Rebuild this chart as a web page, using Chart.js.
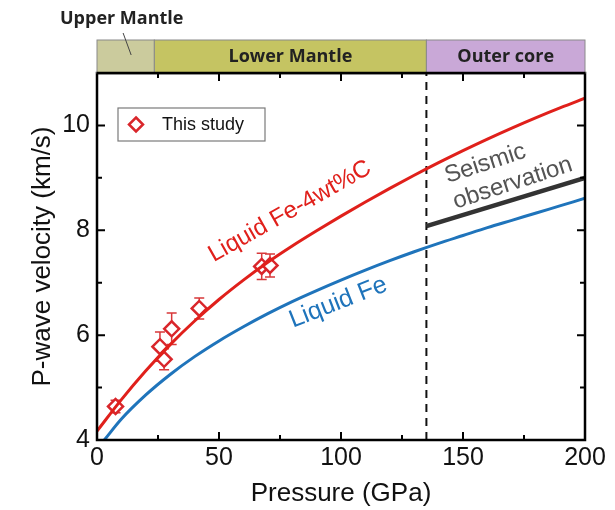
<!DOCTYPE html>
<html><head><meta charset="utf-8">
<script src="https://cdn.jsdelivr.net/npm/chart.js@4.4.0/dist/chart.umd.min.js"></script>
<style>html,body{margin:0;padding:0;background:#fff;}</style>
</head><body>
<canvas id="c" width="615" height="510"></canvas>
<script>
// ---- data ----
const fe4cP = [0,10,20,30,40,50,60,70,80,90,100,110,120,130,140,150,160,170,180,190,200];
const fe4cV = [4.17,4.77,5.32,5.82,6.27,6.68,7.05,7.39,7.70,7.99,8.27,8.54,8.80,9.05,9.29,9.52,9.74,9.95,10.15,10.34,10.52];
const feP = [3,10,20,30,40,50,60,70,80,90,100,110,120,130,140,150,160,170,180,190,200];
const feV = [4.00,4.40,4.86,5.25,5.59,5.89,6.16,6.41,6.64,6.85,7.05,7.24,7.42,7.59,7.75,7.90,8.05,8.19,8.33,8.47,8.61];
const seismicP = [135,200];
const seismicV = [8.08,9.00];
const studyP = [7.6,25.8,27.5,30.6,41.9,67.5,70.9];
const studyV = [4.64,5.78,5.54,6.12,6.51,7.31,7.33];
const studyErr = [0.12,0.28,0.20,0.30,0.20,0.25,0.22];
const cmbP = 135;
const zoneEdges = [0,23.5,135,200];
const zoneNames = ['','Lower Mantle','Outer core'];
const xTicks = [0,50,100,150,200];
const xMinor = [25,75,125,175];
const yTicks = [4,6,8,10];
const yMinor = [5,7,9,11];
const curveLabels = [
  {text:['Liquid Fe-4wt%C'], p:47.8, v:7.39, angle:-29.5, color:'#e0201b', size:24},
  {text:['Liquid Fe'], p:80.3, v:6.14, angle:-21.5, color:'#1f74bb', size:25},
  {text:['Seismic','observation'], p:143.6, v:8.90, angle:-18, color:'#545454', size:24}
];

const FONT = "'Liberation Sans', Arial, sans-serif";
const RED = '#e0201b', BLUE = '#1f74bb';

const decor = {
  id:'decor',
  beforeDatasetsDraw(chart){
    const {ctx, chartArea:a, scales:{x}} = chart;
    ctx.save();
    ctx.strokeStyle = '#111'; ctx.lineWidth = 2; ctx.setLineDash([8,6]);
    const px = x.getPixelForValue(cmbP);
    ctx.beginPath(); ctx.moveTo(px, a.bottom); ctx.lineTo(px, a.top); ctx.stroke();
    ctx.restore();
  },
  beforeDatasetDraw(chart, args){
    if (args.index !== 3) return;
    const {ctx, scales:{x,y}} = chart;
    ctx.save(); ctx.strokeStyle = '#d8383a'; ctx.lineWidth = 1.5;
    studyP.forEach((p,i)=>{
      const px = x.getPixelForValue(p);
      const y1 = y.getPixelForValue(studyV[i]-studyErr[i]);
      const y2 = y.getPixelForValue(studyV[i]+studyErr[i]);
      ctx.beginPath();
      ctx.moveTo(px,y1); ctx.lineTo(px,y2);
      ctx.moveTo(px-5,y1); ctx.lineTo(px+5,y1);
      ctx.moveTo(px-5,y2); ctx.lineTo(px+5,y2);
      ctx.stroke();
    });
    ctx.restore();
  },
  afterDatasetsDraw(chart){
    const {ctx, scales:{x,y}} = chart;
    curveLabels.forEach(l=>{
      ctx.save();
      ctx.translate(x.getPixelForValue(l.p), y.getPixelForValue(l.v));
      ctx.rotate(l.angle*Math.PI/180);
      ctx.fillStyle = l.color; ctx.font = l.size+'px '+FONT;
      ctx.textAlign = 'left'; ctx.textBaseline = 'alphabetic';
      l.text.forEach((t,i)=>ctx.fillText(t, 0, i*27));
      ctx.restore();
    });
  },
  afterDraw(chart){
    const {ctx, chartArea:a, scales:{x,y}} = chart;
    ctx.save();
    ctx.strokeStyle = '#000'; ctx.lineWidth = 2.5;
    ctx.strokeRect(a.left, a.top, a.right-a.left, a.bottom-a.top);
    ctx.lineWidth = 2;
    const tickX = (v,len)=>{const p=x.getPixelForValue(v);
      ctx.beginPath(); ctx.moveTo(p,a.bottom); ctx.lineTo(p,a.bottom-len);
      ctx.moveTo(p,a.top); ctx.lineTo(p,a.top+len); ctx.stroke();};
    const tickY = (v,len)=>{const p=y.getPixelForValue(v);
      ctx.beginPath(); ctx.moveTo(a.left,p); ctx.lineTo(a.left+len,p);
      ctx.moveTo(a.right,p); ctx.lineTo(a.right-len,p); ctx.stroke();};
    xTicks.forEach(v=>tickX(v,8)); xMinor.forEach(v=>tickX(v,5));
    yTicks.forEach(v=>tickY(v,8)); yMinor.forEach(v=>tickY(v,5));
    const bandH = 33, bandTop = a.top - bandH;
    const colors = ['#cbcb9d','#c5c462','#c9a8d7'];
    const bandFont = "bold 18px 'Open Sans', sans-serif";
    for (let i=0;i<3;i++){
      const x0 = x.getPixelForValue(zoneEdges[i]), x1 = x.getPixelForValue(zoneEdges[i+1]);
      ctx.fillStyle = colors[i]; ctx.fillRect(x0, bandTop, x1-x0, bandH);
      ctx.strokeStyle = '#8a8a8a'; ctx.lineWidth = 1; ctx.strokeRect(x0, bandTop, x1-x0, bandH);
      if (zoneNames[i]){
        ctx.fillStyle = '#222'; ctx.font = bandFont;
        ctx.textAlign = 'center'; ctx.textBaseline = 'middle';
        ctx.fillText(zoneNames[i], (x0+x1)/2, bandTop+bandH/2);
      }
    }
    ctx.strokeStyle = '#000'; ctx.lineWidth = 2.5;
    ctx.beginPath(); ctx.moveTo(a.left, a.top); ctx.lineTo(a.right, a.top); ctx.stroke();
    ctx.fillStyle = '#222'; ctx.font = bandFont;
    ctx.textAlign = 'left'; ctx.textBaseline = 'middle';
    ctx.fillText('Upper Mantle', 60, bandTop - 21);
    ctx.strokeStyle = '#444'; ctx.lineWidth = 1;
    ctx.beginPath(); ctx.moveTo(x.getPixelForValue(10.7), bandTop - 7);
    ctx.lineTo(x.getPixelForValue(14), bandTop + 15); ctx.stroke();
    const lx = a.left + 21, ly = a.top + 35, lw = 147, lh = 33;
    ctx.strokeStyle = '#7a7a7a'; ctx.lineWidth = 1.2; ctx.strokeRect(lx, ly, lw, lh);
    const cx = lx + 18, cy = ly + lh/2, r = 7;
    ctx.strokeStyle = '#d9262b'; ctx.lineWidth = 2.5; ctx.fillStyle = '#fff';
    ctx.beginPath(); ctx.moveTo(cx, cy-r); ctx.lineTo(cx+r, cy); ctx.lineTo(cx, cy+r); ctx.lineTo(cx-r, cy); ctx.closePath();
    ctx.fill(); ctx.stroke();
    ctx.fillStyle = '#111'; ctx.font = '18px '+FONT; ctx.textAlign = 'left'; ctx.textBaseline = 'middle';
    ctx.fillText('This study', lx + 44, cy + 1);
    ctx.restore();
  }
};

const toXY = (ps, vs) => ps.map((p,i)=>({x:p, y:vs[i]}));

new Chart(document.getElementById('c'), {
  type:'scatter',
  data:{datasets:[
    {label:'Liquid Fe', data:toXY(feP,feV), showLine:true, borderColor:BLUE, borderWidth:3, pointRadius:0, cubicInterpolationMode:'monotone'},
    {label:'Liquid Fe-4wt%C', data:toXY(fe4cP,fe4cV), showLine:true, borderColor:RED, borderWidth:3, pointRadius:0, cubicInterpolationMode:'monotone'},
    {label:'Seismic observation', data:toXY(seismicP,seismicV), showLine:true, borderColor:'#333', borderWidth:4.5, pointRadius:0},
    {label:'This study', data:toXY(studyP,studyV), pointStyle:'rectRot', pointRadius:7.5, pointBorderWidth:2.5, pointBorderColor:'#d9262b', pointBackgroundColor:'#fff'}
  ]},
  options:{
    responsive:false, animation:false, devicePixelRatio:1,
    layout:{padding:{top:73, right:30, left:0, bottom:0}},
    plugins:{legend:{display:false}, tooltip:{enabled:false}},
    scales:{
      x:{type:'linear', min:0, max:200,
        afterBuildTicks:s=>{s.ticks = xTicks.map(v=>({value:v}));},
        afterFit:s=>{s.height = 70;},
        grid:{display:false, drawTicks:false}, border:{display:false},
        ticks:{font:{family:FONT, size:25}, color:'#111', padding:3, maxRotation:0, autoSkip:false},
        title:{display:true, text:'Pressure (GPa)', color:'#111', font:{family:FONT, size:26}, padding:{top:0, bottom:1}}
      },
      y:{type:'linear', min:4, max:11,
        afterBuildTicks:s=>{s.ticks = yTicks.map(v=>({value:v}));},
        afterFit:s=>{s.width = 97;},
        grid:{display:false, drawTicks:false}, border:{display:false},
        ticks:{font:{family:FONT, size:25}, color:'#111', padding:7, autoSkip:false},
        title:{display:true, text:'P-wave velocity (km/s)', color:'#111', font:{family:FONT, size:26}, padding:{top:27, bottom:0}}
      }
    }
  },
  plugins:[decor]
});
</script>
</body></html>
